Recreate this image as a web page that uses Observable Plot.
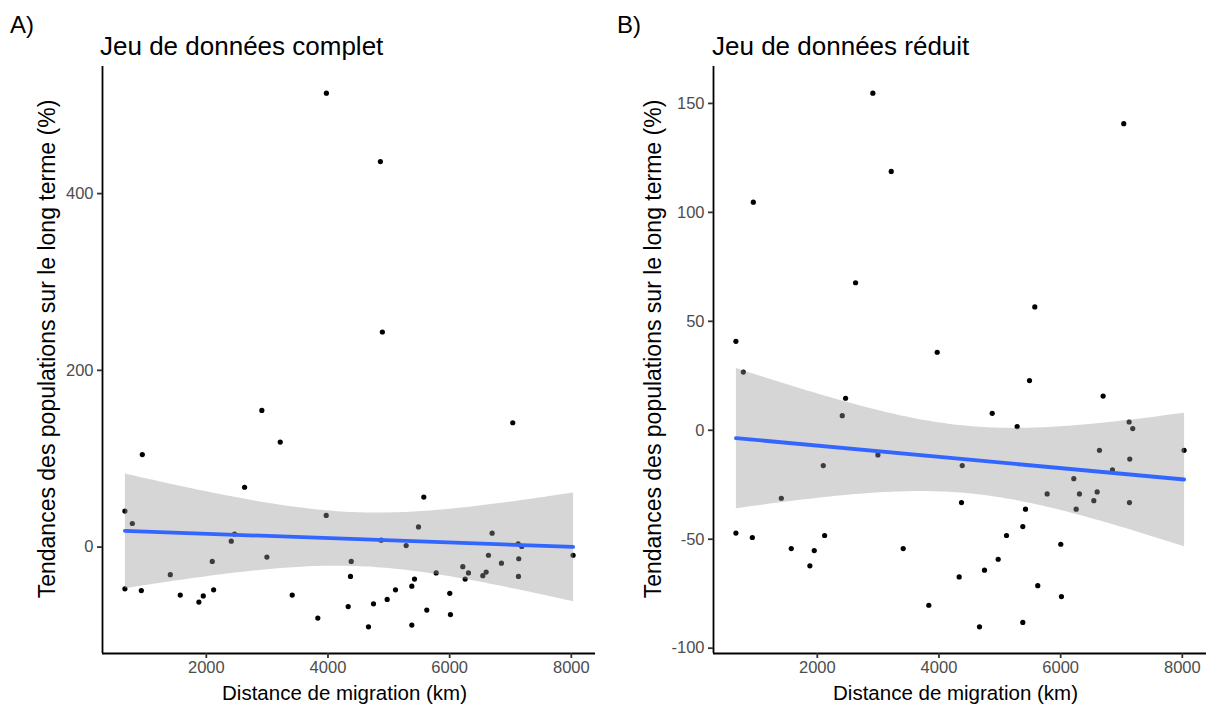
<!DOCTYPE html>
<html lang="fr">
<head>
<meta charset="utf-8">
<script src="https://cdn.jsdelivr.net/npm/d3@7"></script>
<script src="https://cdn.jsdelivr.net/npm/@observablehq/plot@0.6"></script>
<style>
  html, body { margin: 0; padding: 0; background: #ffffff; }
  #wrap { position: relative; width: 1209px; height: 708px; overflow: hidden;
          font-family: "Liberation Sans", Arial, Helvetica, sans-serif; color: #000; }
  .panel { position: absolute; top: 0; height: 708px; }
  .panel svg { position: absolute; left: 0; top: 0; overflow: visible; }
  .lbl { position: absolute; white-space: nowrap; line-height: 1; }
  .tag { font-size: 24px; }
  .title { font-size: 26px; }
  .xtitle { font-size: 20.5px; }
  .ytitle { font-size: 23px; }
</style>
</head>
<body>
<div id="wrap"></div>
<script>
// Distance de migration (km) et tendance (%) des espèces du jeu réduit
const distanceKm = [662, 948, 2913, 3215, 2629, 5575, 3971, 7037, 784, 5488,
  6698, 2465, 4875, 2410, 5285, 7126, 7185, 6638, 8029, 2996,
  7136, 2098, 4382, 6851, 6216, 1408, 5778, 6309, 6600, 6545,
  7131, 6255, 4370, 5422, 5378, 5110, 662, 932, 2120, 6002,
  1572, 1950, 3412, 4973, 1878, 4748, 4332, 5624, 6013, 3833,
  5378, 4666];
const tendance = [40.8, 104.7, 154.7, 118.8, 67.7, 56.6, 35.8, 140.7, 26.7, 22.8,
  15.7, 14.7, 7.8, 6.7, 1.7, 3.8, 0.8, -9.2, -9.2, -11.3,
  -13.2, -16.2, -16.2, -18.2, -22.2, -31.2, -29.2, -29.2, -28.3, -32.3,
  -33.2, -36.2, -33.2, -36.2, -44.2, -48.3, -47.2, -49.2, -48.3, -52.3,
  -54.3, -55.2, -54.3, -59.2, -62.2, -64.2, -67.3, -71.3, -76.3, -80.3,
  -88.2, -90.2];

// Espèces retirées du jeu réduit (fortes hausses)
const distanceExtremes = [3974, 4861, 4894];
const tendanceExtremes = [513.6, 436.2, 243.4];

// Graduations
const ticksX = [2000, 4000, 6000, 8000];
const ticksYComplet = [0, 200, 400];
const ticksYReduit = [-100, -50, 0, 50, 100, 150];

const reduit = distanceKm.map((d, i) => ({distance: d, tendance: tendance[i]}));
const complet = reduit.concat(
  distanceExtremes.map((d, i) => ({distance: d, tendance: tendanceExtremes[i]}))
);

const FONT = '"Liberation Sans", Arial, Helvetica, sans-serif';

// 5 % de marge autour de l'étendue des données
function expand([a, b], f = 0.05) {
  const p = (b - a) * f;
  return [a - p, b + p];
}

function label(parent, cls, text, css) {
  const el = document.createElement("div");
  el.className = "lbl " + cls;
  el.textContent = text;
  Object.assign(el.style, css);
  parent.appendChild(el);
  return el;
}

function panel({data, yTicks, tag, title, left, width, marginLeft, marginRight, tagX, titleX, yTitleX}) {
  const H = 708, marginTop = 66, marginBottom = 55;
  const xDom = expand(d3.extent(data, d => d.distance));
  const yDom = expand(d3.extent(data, d => d.tendance));

  const chart = Plot.plot({
    width, height: H,
    marginTop, marginBottom, marginLeft, marginRight,
    x: {domain: xDom},
    y: {domain: yDom},
    style: {fontFamily: FONT, background: "transparent", overflow: "visible"},
    marks: [
      Plot.dot(data, {x: "distance", y: "tendance", r: 2.6, fill: "#000", stroke: "none"}),
      Plot.linearRegressionY(data, {
        x: "distance", y: "tendance", ci: 0.95,
        stroke: "#3366FF", strokeWidth: 3.8,
        fill: "#999999", fillOpacity: 0.4
      }),
      Plot.ruleX([xDom[0]], {stroke: "#000", strokeWidth: 1.8}),
      Plot.ruleY([yDom[0]], {stroke: "#000", strokeWidth: 1.8}),
      Plot.axisX({
        ticks: ticksX, tickFormat: d => String(d), label: null,
        tickSize: 5, tickPadding: 3, fontSize: 16.5,
        color: "#4D4D4D", stroke: "#333333", strokeWidth: 1.8
      }),
      Plot.axisY({
        ticks: yTicks, tickFormat: d => String(d), label: null,
        tickSize: 5, tickPadding: 4, fontSize: 16.5,
        color: "#4D4D4D", stroke: "#333333", strokeWidth: 1.8
      })
    ]
  });

  const div = document.createElement("div");
  div.className = "panel";
  div.style.left = left + "px";
  div.style.width = width + "px";
  div.appendChild(chart);

  const centerX = marginLeft + (width - marginLeft - marginRight) / 2;

  label(div, "tag", tag, {left: tagX + "px", top: (33 - 0.8465 * 24) + "px"});
  label(div, "title", title, {left: titleX + "px", top: (55 - 0.8465 * 26) + "px"});
  label(div, "xtitle", "Distance de migration (km)", {
    left: (centerX - 4) + "px", top: (700 - 0.8465 * 20.5) + "px", transform: "translateX(-50%)"
  });
  label(div, "ytitle", "Tendances des populations sur le long terme (%)", {
    left: yTitleX + "px", top: "349px",
    transform: "translate(-50%, -50%) rotate(-90deg)"
  });
  document.getElementById("wrap").appendChild(div);
}

panel({
  data: complet, yTicks: ticksYComplet, tag: "A)", title: "Jeu de données complet",
  left: 0, width: 604, marginLeft: 102, marginRight: 9,
  tagX: 10, titleX: 100, yTitleX: 47
});
panel({
  data: reduit, yTicks: ticksYReduit, tag: "B)", title: "Jeu de données réduit",
  left: 604, width: 605, marginLeft: 109, marginRight: 3,
  tagX: 13, titleX: 108, yTitleX: 49
});
</script>
</body>
</html>
